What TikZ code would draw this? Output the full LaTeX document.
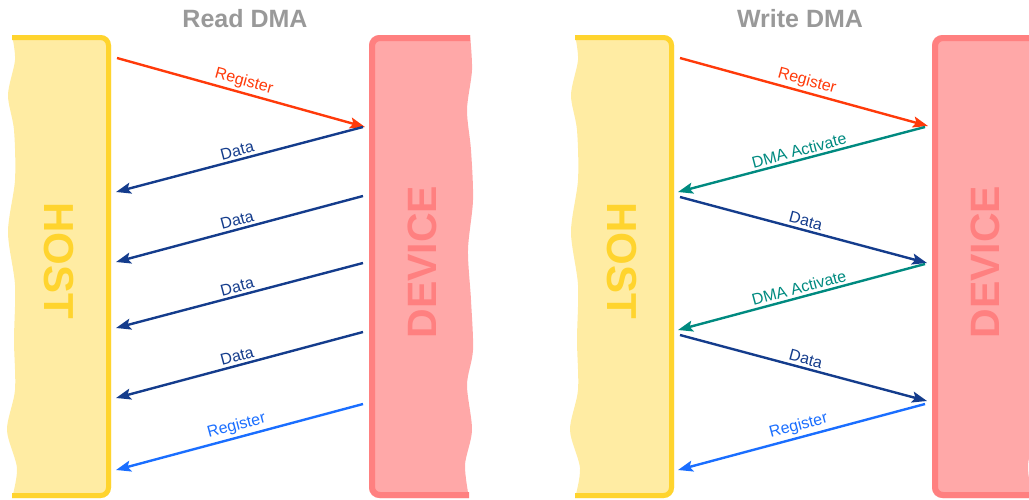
\documentclass[tikz,border=0pt]{standalone}
\usepackage{fontspec}
\setmainfont{Liberation Sans}
\usetikzlibrary{arrows.meta}

\definecolor{hostfill}{HTML}{FFECA3}
\definecolor{hostline}{HTML}{FFD42E}
\definecolor{devfill}{HTML}{FFA8A8}
\definecolor{devline}{HTML}{FF8080}
\definecolor{titlegray}{HTML}{999999}
\definecolor{regred}{HTML}{FF3A0A}
\definecolor{datanavy}{HTML}{143C8C}
\definecolor{actteal}{HTML}{008A80}
\definecolor{regblue}{HTML}{1A6EFF}

\tikzset{
  msg/.style={line width=2.4pt, -{Stealth[length=15pt,width=11pt,inset=3pt]}},
  lbl/.style={sloped, above, inner sep=2.5pt, font=\fontsize{16}{16}\selectfont},
  title/.style={font=\bfseries\fontsize{25}{25}\selectfont, text=titlegray},
  hosttext/.style={font=\bfseries\fontsize{42}{42}\selectfont, text=hostline, rotate=-90},
  devtext/.style={font=\bfseries\fontsize{41}{41}\selectfont, text=devline, rotate=90},
}

% one host / device pair, drawn at the current shift
\newcommand\hostdevicepair{%
  % host column: wavy left edge, rounded right corners
  \fill[hostfill] plot[smooth] coordinates {(12,35) (15,60) (8,95) (14,130) (15,180) (8,232) (15,285) (14,340) (15,390) (7,430) (17,468) (12,498)}
    -- (100,498) -- (100,35) -- cycle;
  \fill[hostfill, rounded corners=10pt] (90,35) rectangle (111,498);
  \draw[hostline, line width=5pt, rounded corners=8pt] (12,37.5) -- (108.5,37.5) -- (108.5,495.5) -- (12,495.5);
  % device column: rounded left corners, wavy right edge
  \fill[devfill] plot[smooth] coordinates {(470,35) (472,70) (467,110) (471,150) (473,200) (468,250) (471,300) (473,350) (467,385) (472,430) (465,465) (469,498)}
    -- (380,498) -- (380,35) -- cycle;
  \fill[devfill, rounded corners=10pt] (369,35) rectangle (390,498);
  \draw[devline, line width=6pt, rounded corners=8pt] (470,38) -- (372,38) -- (372,495) -- (469,495);
}

\begin{document}
\begin{tikzpicture}[x=1pt, y=-1pt]
\useasboundingbox (0,0) rectangle (1029,499);
\clip (0,0) rectangle (1029,499);

% ---------- Read DMA ----------
\hostdevicepair
\node[title] (t1) at (245,19) {Read DMA};
\node[hosttext] (host1) at (59,261) {HOST};
\node[devtext] (dev1) at (422,262) {DEVICE};

\coordinate (ra1) at (117,58);  \coordinate (rb1) at (365,127);
\coordinate (ra2) at (363,127); \coordinate (rb2) at (116,192);
\coordinate (ra3) at (363,196); \coordinate (rb3) at (116,262);
\coordinate (ra4) at (363,263); \coordinate (rb4) at (116,328);
\coordinate (ra5) at (363,332); \coordinate (rb5) at (116,398);
\coordinate (ra6) at (363,404); \coordinate (rb6) at (116,470);

\draw[msg, regred]   (ra1) -- node[lbl] {Register} (rb1);
\draw[msg, datanavy] (ra2) -- node[lbl] {Data} (rb2);
\draw[msg, datanavy] (ra3) -- node[lbl] {Data} (rb3);
\draw[msg, datanavy] (ra4) -- node[lbl] {Data} (rb4);
\draw[msg, datanavy] (ra5) -- node[lbl] {Data} (rb5);
\draw[msg, regblue]  (ra6) -- node[lbl] {Register} (rb6);

% ---------- Write DMA ----------
\begin{scope}[xshift=563pt]
\hostdevicepair
\node[title] (t2) at (237,19) {Write DMA};
\node[hosttext] (host2) at (59,261) {HOST};
\node[devtext] (dev2) at (422,262) {DEVICE};

\coordinate (wa1) at (117,58);  \coordinate (wb1) at (365,126);
\coordinate (wa2) at (362,127); \coordinate (wb2) at (115,192);
\coordinate (wa3) at (117,197); \coordinate (wb3) at (364,263);
\coordinate (wa4) at (362,264); \coordinate (wb4) at (115,330);
\coordinate (wa5) at (117,335); \coordinate (wb5) at (364,401);
\coordinate (wa6) at (362,404); \coordinate (wb6) at (115,470);

\draw[msg, regred]   (wa1) -- node[lbl] {Register} (wb1);
\draw[msg, actteal]  (wa2) -- node[lbl] {DMA Activate} (wb2);
\draw[msg, datanavy] (wa3) -- node[lbl] {Data} (wb3);
\draw[msg, actteal]  (wa4) -- node[lbl] {DMA Activate} (wb4);
\draw[msg, datanavy] (wa5) -- node[lbl] {Data} (wb5);
\draw[msg, regblue]  (wa6) -- node[lbl] {Register} (wb6);
\end{scope}
\end{tikzpicture}
\end{document}
